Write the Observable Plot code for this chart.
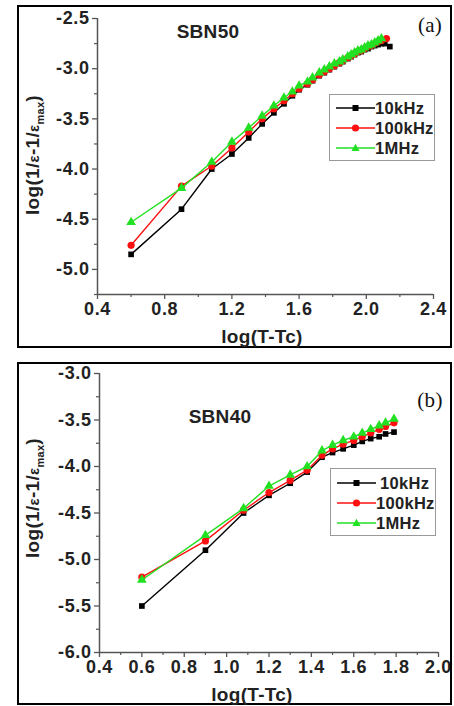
<!DOCTYPE html>
<html>
<head>
<meta charset="utf-8">
<script src="https://cdn.jsdelivr.net/npm/d3@7"></script>
<script src="https://cdn.jsdelivr.net/npm/@observablehq/plot@0.6"></script>
<style>
  body { margin: 0; background: #fff; }
  #wrap { position: relative; width: 454px; height: 706px; overflow: hidden; font-family: "Liberation Sans", Arial, sans-serif; }
  .plot { position: absolute; left: 0; }
  .plot text { font-weight: bold; font-size: 18px; letter-spacing: 0.6px; }
  .frame { position: absolute; border: 2px solid #000; box-sizing: border-box; pointer-events: none; }
  .t { position: absolute; white-space: nowrap; font-weight: bold; color: #222; letter-spacing: 0.3px; }
  .legend { position: absolute; border: 1.5px solid #999; box-sizing: border-box; background: #fff; }
  .row { position: absolute; left: 6px; height: 18px; display: flex; align-items: center; font-weight: bold; font-size: 16.5px; color: #222; letter-spacing: 0.3px; }
  .row svg { display: block; }
</style>
</head>
<body>
<div id="wrap"></div>
<script>
// ---------- Data ----------
const series = ["10kHz", "100kHz", "1MHz"];
const colors = ["#000000", "#ff1010", "#22e022"];
const symbols = ["square", "circle", "triangle"];

// Panel (a) SBN50
const xA_10k  = [0.6,0.9,1.08,1.2,1.3,1.38,1.45,1.51,1.56,1.6,1.65,1.68,1.72,1.75,1.78,1.81,1.84,1.86,1.89,1.91,1.93,1.95,1.97,1.99,2.01,2.03,2.05,2.07,2.09,2.11,2.14];
const yA_10k  = [-4.85,-4.40,-4.00,-3.85,-3.69,-3.55,-3.44,-3.35,-3.27,-3.21,-3.16,-3.12,-3.07,-3.04,-3.01,-2.98,-2.95,-2.93,-2.90,-2.88,-2.86,-2.84,-2.83,-2.81,-2.80,-2.78,-2.77,-2.76,-2.75,-2.75,-2.78];
const xA_100k = [0.6,0.9,1.08,1.2,1.3,1.38,1.45,1.51,1.56,1.6,1.65,1.68,1.72,1.75,1.78,1.81,1.84,1.86,1.89,1.91,1.93,1.95,1.97,1.99,2.01,2.03,2.05,2.07,2.09,2.12];
const yA_100k = [-4.76,-4.17,-3.97,-3.79,-3.63,-3.50,-3.40,-3.32,-3.25,-3.20,-3.15,-3.11,-3.06,-3.03,-3.00,-2.97,-2.94,-2.92,-2.89,-2.87,-2.85,-2.83,-2.82,-2.80,-2.78,-2.77,-2.75,-2.73,-2.72,-2.70];
const xA_1M   = [0.6,0.9,1.08,1.2,1.3,1.38,1.45,1.51,1.56,1.6,1.65,1.68,1.72,1.75,1.78,1.81,1.84,1.86,1.89,1.91,1.93,1.95,1.97,1.99,2.01,2.03,2.05,2.07,2.09];
const yA_1M   = [-4.53,-4.19,-3.93,-3.73,-3.59,-3.47,-3.37,-3.29,-3.23,-3.17,-3.13,-3.09,-3.04,-3.01,-2.98,-2.95,-2.93,-2.91,-2.88,-2.86,-2.84,-2.82,-2.81,-2.79,-2.77,-2.76,-2.74,-2.72,-2.70];

// Panel (b) SBN40
const xB      = [0.6,0.9,1.08,1.2,1.3,1.38,1.45,1.5,1.55,1.6,1.64,1.68,1.72,1.75,1.79];
const yB_10k  = [-5.50,-4.90,-4.50,-4.31,-4.18,-4.06,-3.90,-3.85,-3.81,-3.77,-3.73,-3.70,-3.68,-3.65,-3.63];
const yB_100k = [-5.19,-4.80,-4.47,-4.28,-4.15,-4.04,-3.88,-3.81,-3.76,-3.72,-3.68,-3.64,-3.60,-3.57,-3.53];
const yB_1M   = [-5.22,-4.74,-4.45,-4.21,-4.09,-4.00,-3.83,-3.77,-3.72,-3.68,-3.64,-3.60,-3.56,-3.53,-3.49];

// Axis ticks
const xTicksA = [0.4,0.8,1.2,1.6,2.0,2.4];
const xMinorA = [0.6,1.0,1.4,1.8,2.2];
const yTicksA = [-2.5,-3.0,-3.5,-4.0,-4.5,-5.0];
const yMinorA = [-2.75,-3.25,-3.75,-4.25,-4.75,-5.25];
const xDomA = [0.4, 2.4], yDomA = [-5.25, -2.5];

const xTicksB = [0.4,0.6,0.8,1.0,1.2,1.4,1.6,1.8,2.0];
const xMinorB = [0.5,0.7,0.9,1.1,1.3,1.5,1.7,1.9];
const yTicksB = [-3.0,-3.5,-4.0,-4.5,-5.0,-5.5,-6.0];
const yMinorB = [-3.25,-3.75,-4.25,-4.75,-5.25,-5.75];
const xDomB = [0.4, 2.0], yDomB = [-6.0, -3.0];

// ---------- Helpers ----------
function rows(xs, ys, name) { return xs.map((x, i) => ({x, y: ys[i], s: name})); }

function makePlot(cfg) {
  const axisColor = "#555";
  const marks = [
    Plot.ruleX([cfg.xDom[0]], {y1: cfg.yDom[0], y2: cfg.yDom[1], stroke: axisColor, strokeWidth: 1.5}),
    Plot.ruleY([cfg.yDom[0]], {x1: cfg.xDom[0], x2: cfg.xDom[1], stroke: axisColor, strokeWidth: 1.5}),
    Plot.axisX({ticks: cfg.xTicks, tickSize: 5, tickPadding: 3, stroke: axisColor, strokeWidth: 1.3, fill: "#222",
      tickFormat: d3.format(".1f"), fontSize: 18, fontWeight: "bold", label: null}),
    Plot.axisX({ticks: cfg.xMinor, tickSize: 3, stroke: axisColor, strokeWidth: 1.2, tickFormat: () => "", label: null}),
    Plot.axisY({ticks: cfg.yTicks, tickSize: 5, tickPadding: 3, stroke: axisColor, strokeWidth: 1.3, fill: "#222",
      tickFormat: d => d3.format(".1f")(d).replace("−", "-"), fontSize: 18, fontWeight: "bold", label: null}),
    Plot.axisY({ticks: cfg.yMinor, tickSize: 3, stroke: axisColor, strokeWidth: 1.2, tickFormat: () => "", label: null})
  ];
  cfg.data.forEach((d, i) => {
    marks.push(Plot.line(d, {x: "x", y: "y", stroke: colors[i], strokeWidth: 1.4}));
    marks.push(Plot.dot(d, {x: "x", y: "y", fill: colors[i], stroke: "none", symbol: () => symbols[i], r: i === 0 ? 3.2 : 3.6}));
  });
  return Plot.plot({
    width: 454, height: cfg.height,
    marginLeft: cfg.ml, marginRight: cfg.mr, marginTop: cfg.mt, marginBottom: cfg.mb,
    x: {domain: cfg.xDom}, y: {domain: cfg.yDom},
    style: {fontFamily: '"Liberation Sans", Arial, sans-serif', background: "transparent", overflow: "visible"},
    marks
  });
}

const wrap = document.getElementById("wrap");
function addEl(html) { const t = document.createElement("div"); t.innerHTML = html; const el = t.firstElementChild; wrap.appendChild(el); return el; }

function legendSwatch(i) {
  const c = colors[i];
  let m;
  if (symbols[i] === "square") m = `<rect x="16.5" y="4" width="6" height="6" fill="${c}"/>`;
  else if (symbols[i] === "circle") m = `<circle cx="19.5" cy="7" r="3.6" fill="${c}"/>`;
  else m = `<path d="M19.5,2.8 L23.6,10 L15.4,10 Z" fill="${c}"/>`;
  return `<svg width="39" height="14"><line x1="0" y1="7" x2="39" y2="7" stroke="${c}" stroke-width="1.4"/>${m}</svg>`;
}

function addPanel(p) {
  const plot = makePlot(p);
  plot.classList.add("plot");
  plot.style.top = p.top + "px";
  wrap.appendChild(plot);
  addEl(`<div class="frame" style="left:17px;top:${p.frame[0]}px;width:435px;height:${p.frame[1]}px"></div>`);
  addEl(`<div class="t" style="font-size:19px;left:${p.sample[0]}px;top:${p.sample[1]}px;transform:translate(-50%,-50%)">${p.sampleName}</div>`);
  addEl(`<div class="t" style="font-family:'Liberation Serif','DejaVu Serif',serif;font-weight:normal;font-size:21px;color:#111;left:${p.letter[0]}px;top:${p.letter[1]}px;transform:translate(-50%,-50%)">${p.letterText}</div>`);
  addEl(`<div class="t" style="font-size:19px;left:${p.xlab[0]}px;top:${p.xlab[1]}px;transform:translate(-50%,-50%)">log(T-Tc)</div>`);
  addEl(`<div class="t" style="font-size:19px;left:${p.ylab[0]}px;top:${p.ylab[1]}px;transform:translate(-50%,-50%) rotate(-90deg)">log(1/<span style="font-size:15px">ε</span>-1/<span style="font-size:15px">ε</span><sub style="font-size:11px">max</sub>)</div>`);
  const lg = addEl(`<div class="legend" style="left:${p.legend[0]}px;top:${p.legend[1]}px;width:${p.legend[2]}px;height:${p.legend[3]}px"></div>`);
  series.forEach((s, i) => {
    const r = document.createElement("div");
    r.className = "row";
    r.style.top = (p.legendRowTop + i * p.legendRowGap) + "px";
    r.innerHTML = legendSwatch(i) + `<span style="margin-left:${i === 0 ? p.firstGap : 0}px">${s}</span>`;
    lg.appendChild(r);
  });
}

addPanel({
  top: 0, height: 350, ml: 97, mr: 21, mt: 18, mb: 56,
  xDom: xDomA, yDom: yDomA, xTicks: xTicksA, xMinor: xMinorA, yTicks: yTicksA, yMinor: yMinorA,
  data: [rows(xA_10k, yA_10k, series[0]), rows(xA_100k, yA_100k, series[1]), rows(xA_1M, yA_1M, series[2])],
  frame: [5, 343], sample: [208, 32], sampleName: "SBN50", letter: [430, 25], letterText: "(a)",
  xlab: [262, 337], ylab: [34, 155],
  legend: [329, 94, 106, 67], legendRowTop: 4, legendRowGap: 20, firstGap: 0
});

addPanel({
  top: 356, height: 350, ml: 99, mr: 16, mt: 17, mb: 54,
  xDom: xDomB, yDom: yDomB, xTicks: xTicksB, xMinor: xMinorB, yTicks: yTicksB, yMinor: yMinorB,
  data: [rows(xB, yB_10k, series[0]), rows(xB, yB_100k, series[1]), rows(xB, yB_1M, series[2])],
  frame: [362, 343], sample: [220, 417], sampleName: "SBN40", letter: [430, 400], letterText: "(b)",
  xlab: [252, 695], ylab: [34, 498],
  legend: [330, 468, 106, 68], legendRowTop: 5, legendRowGap: 20, firstGap: 4
});
</script>
</body>
</html>
